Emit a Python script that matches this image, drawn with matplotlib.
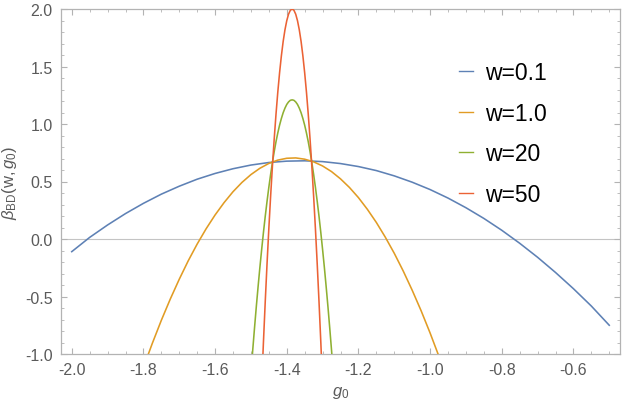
import numpy as np
import matplotlib
matplotlib.use("Agg")
import matplotlib.pyplot as plt
from matplotlib.ticker import MultipleLocator, FormatStrFormatter

plt.rcParams['font.family'] = ['Liberation Sans', 'DejaVu Sans']
plt.rcParams['mathtext.fontset'] = 'custom'
plt.rcParams['mathtext.rm'] = 'Liberation Sans'
plt.rcParams['mathtext.it'] = 'Liberation Sans:italic'

# ---- data ----
g_blue = [-2.00, -1.95, -1.90, -1.85, -1.80, -1.75, -1.70, -1.65, -1.60, -1.55,
          -1.50, -1.45, -1.40, -1.35, -1.30, -1.25, -1.20, -1.15, -1.10, -1.05,
          -1.00, -0.95, -0.90, -0.85, -0.80, -0.75, -0.70, -0.65, -0.60, -0.55,
          -0.50]
b_blue = [-0.110, 0.014, 0.122, 0.221, 0.310, 0.390, 0.459, 0.520, 0.570, 0.611,
          0.643, 0.665, 0.677, 0.680, 0.673, 0.656, 0.630, 0.595, 0.549, 0.494,
          0.430, 0.356, 0.272, 0.179, 0.076, -0.037, -0.159, -0.291, -0.432, -0.583,
          -0.750]

g_orange = [-1.800, -1.775, -1.750, -1.725, -1.700, -1.675, -1.650, -1.625, -1.600,
            -1.575, -1.550, -1.525, -1.500, -1.475, -1.450, -1.425, -1.400, -1.375,
            -1.350, -1.325, -1.300, -1.275, -1.250, -1.225, -1.200, -1.175, -1.150,
            -1.125, -1.100, -1.075, -1.050, -1.025, -1.000, -0.975]
b_orange = [-1.117, -0.906, -0.707, -0.522, -0.350, -0.190, -0.044, 0.089, 0.209,
            0.316, 0.411, 0.492, 0.560, 0.615, 0.657, 0.686, 0.702, 0.705,
            0.694, 0.671, 0.635, 0.586, 0.523, 0.448, 0.360, 0.258, 0.144,
            0.016, -0.124, -0.278, -0.445, -0.624, -0.817, -1.023]

g_green = [-1.500, -1.495, -1.490, -1.485, -1.480, -1.475, -1.470, -1.465, -1.460,
           -1.455, -1.450, -1.445, -1.440, -1.435, -1.430, -1.425, -1.420, -1.415,
           -1.410, -1.405, -1.400, -1.395, -1.390, -1.385, -1.380, -1.375, -1.370,
           -1.365, -1.360, -1.355, -1.350, -1.345, -1.340, -1.335, -1.330, -1.325,
           -1.320, -1.315, -1.310, -1.305, -1.300, -1.295, -1.290, -1.285, -1.280,
           -1.275, -1.270]
b_green = [-1.171, -0.968, -0.775, -0.590, -0.415, -0.248, -0.091, 0.058, 0.198,
           0.328, 0.450, 0.562, 0.666, 0.760, 0.846, 0.922, 0.990, 1.048,
           1.098, 1.138, 1.170, 1.192, 1.206, 1.210, 1.206, 1.192, 1.170,
           1.138, 1.098, 1.048, 0.990, 0.922, 0.846, 0.760, 0.666, 0.562,
           0.450, 0.328, 0.198, 0.058, -0.091, -0.248, -0.415, -0.590, -0.775,
           -0.968, -1.171]

g_red = [-1.470, -1.465, -1.460, -1.455, -1.450, -1.445, -1.440, -1.435, -1.430,
         -1.425, -1.420, -1.415, -1.410, -1.405, -1.400, -1.395, -1.390, -1.385,
         -1.380, -1.375, -1.370, -1.365, -1.360, -1.355, -1.350, -1.345, -1.340,
         -1.335, -1.330, -1.325, -1.320, -1.315, -1.310, -1.305, -1.300]
b_red = [-1.266, -0.893, -0.543, -0.215, 0.090, 0.373, 0.633, 0.870, 1.085,
         1.277, 1.446, 1.593, 1.718, 1.819, 1.898, 1.955, 1.989, 2.000,
         1.989, 1.955, 1.898, 1.819, 1.718, 1.593, 1.446, 1.277, 1.085,
         0.870, 0.633, 0.373, 0.090, -0.215, -0.543, -0.893, -1.266]

labels = ["w=0.1", "w=1.0", "w=20", "w=50"]
colors = ["#5E81B5", "#E19C24", "#8FB032", "#EB6235"]

x_ticks = [-2.0, -1.8, -1.6, -1.4, -1.2, -1.0, -0.8, -0.6]
y_ticks = [-1.0, -0.5, 0.0, 0.5, 1.0, 1.5, 2.0]

# ---- figure ----
fig = plt.figure(figsize=(6.23, 4.02), dpi=100)
ax = fig.add_axes([61/623, 1 - 355/402, (620-61)/623, (355-10)/402])

series = [(g_blue, b_blue), (g_orange, b_orange), (g_green, b_green), (g_red, b_red)]
ax.axhline(0, color="#c4c4c4", lw=0.8, zorder=1)
for (g, b), lab, c in zip(series, labels, colors):
    ax.plot(g, b, color=c, lw=1.15, label=lab, zorder=3,
            solid_joinstyle='round')

ax.set_xlim(-2.03, -0.47)
ax.set_ylim(-1.0, 2.0)
ax.set_xticks(x_ticks)
ax.set_yticks(y_ticks)
ax.xaxis.set_major_formatter(FormatStrFormatter('%.1f'))
ax.yaxis.set_major_formatter(FormatStrFormatter('%.1f'))
ax.xaxis.set_minor_locator(MultipleLocator(0.05))
ax.yaxis.set_minor_locator(MultipleLocator(0.1))

frame_c = "#b3b3b3"
for s in ax.spines.values():
    s.set_color(frame_c)
    s.set_linewidth(0.9)
ax.tick_params(which='both', direction='in', top=True, right=True,
               color=frame_c, labelcolor="#5a5a5a", labelsize=11.5)
ax.tick_params(which='major', length=4.5, width=0.8, pad=6)
ax.tick_params(which='minor', length=2.5, width=0.6)

ax.set_xlabel(r'$g_0$', color="#5a5a5a", fontsize=12, labelpad=5)
ax.set_ylabel(r'$\beta_{\mathrm{BD}}(\mathrm{w},g_0)$', color="#5a5a5a",
              fontsize=12, labelpad=4)

leg = ax.legend(loc='upper left', bbox_to_anchor=(0.712, 0.848), frameon=False,
                fontsize=16.5, handlelength=0.6, handletextpad=0.55,
                labelspacing=0.76, borderpad=0, borderaxespad=0)
for line in leg.get_lines():
    line.set_linewidth(1.0)

fig.savefig("out.png", dpi=100)
